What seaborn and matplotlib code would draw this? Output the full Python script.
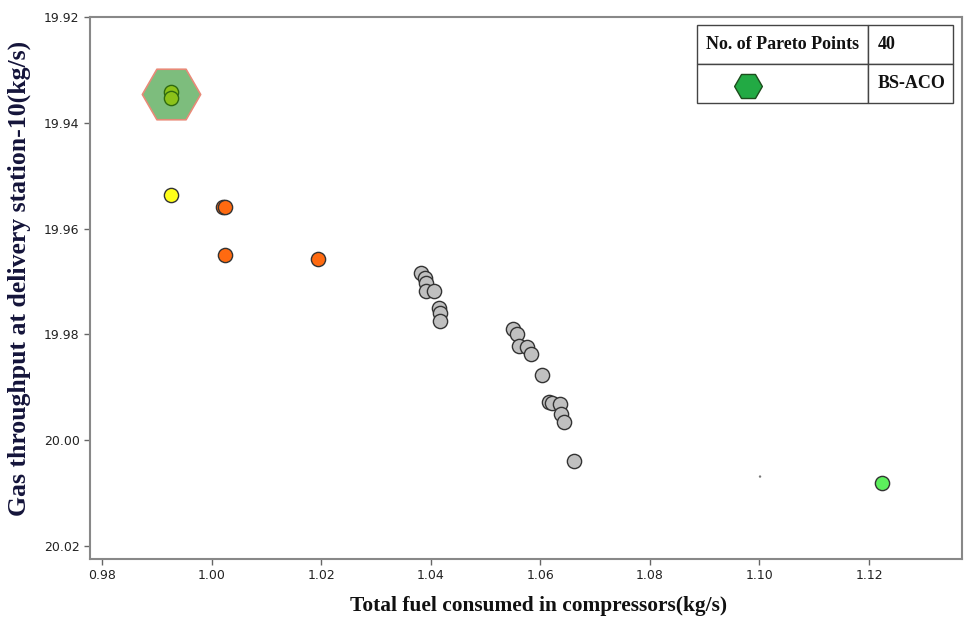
import matplotlib
matplotlib.use("Agg")
import matplotlib.pyplot as plt
import seaborn as sns
import pandas as pd

# Pareto front: fuel consumed (x) vs. throughput at delivery station 10 (y)
fuel = [0.9926, 0.9926,
        0.9926,
        1.0021, 1.0025, 1.0025, 1.0194,
        1.0382, 1.0390, 1.0391, 1.0391, 1.0406, 1.0415, 1.0417, 1.0417,
        1.0550, 1.0558, 1.0561, 1.0576, 1.0583, 1.0603, 1.0616, 1.0621,
        1.0636, 1.0638, 1.0643, 1.0662,
        1.1224]
throughput = [19.9342, 19.9353,
              19.9536,
              19.9559, 19.9559, 19.9650, 19.9658,
              19.9684, 19.9694, 19.9703, 19.9717, 19.9717, 19.9751, 19.9760, 19.9775,
              19.9790, 19.9800, 19.9822, 19.9824, 19.9837, 19.9876, 19.9927, 19.9929,
              19.9931, 19.9950, 19.9965, 20.0039,
              20.0081]
group = ["best"] * 2 + ["knee"] + ["near"] * 4 + ["front"] * 20 + ["extreme"]

# Highlighted BS-ACO solution
hex_fuel = [0.9926]
hex_throughput = [19.9346]

# Stray point
stray_fuel = [1.1001]
stray_throughput = [20.0069]

x_ticks = [0.98, 1.00, 1.02, 1.04, 1.06, 1.08, 1.10, 1.12]
y_ticks = [19.92, 19.94, 19.96, 19.98, 20.00, 20.02]

table_text = [["No. of Pareto Points", "40"], ["", "BS-ACO"]]

palette = {"best": "#8cc21a", "knee": "#ffff1a", "near": "#ff6a10",
           "front": "#c0c0c0", "extreme": "#5cee5c"}
edges = {"best": "#2f6a10", "knee": "#333333", "near": "#333333",
         "front": "#333333", "extreme": "#333333"}

sns.set_theme(style="white")
fig = plt.figure(figsize=(9.68, 6.17), dpi=100)
ax = fig.add_axes([0.093, 0.094, 0.901, 0.878])

sns.scatterplot(x=hex_fuel, y=hex_throughput, marker="H", s=1764,
                color="#7dbd7d", edgecolor="#e88a78", linewidth=1.2, ax=ax,
                legend=False, zorder=2)

df = pd.DataFrame({"fuel": fuel, "throughput": throughput, "group": group})
for g, sub in df.groupby("group", sort=False):
    sns.scatterplot(data=sub, x="fuel", y="throughput", s=105,
                    color=palette[g], edgecolor=edges[g], linewidth=1.0,
                    ax=ax, legend=False, zorder=3)

sns.scatterplot(x=stray_fuel, y=stray_throughput, s=3, color="#777777",
                edgecolor="none", ax=ax, legend=False, zorder=3)

ax.set_xlim(0.9778, 1.137)
ax.set_ylim(20.0225, 19.92)
ax.set_xticks(x_ticks)
ax.set_xticklabels([f"{v:.2f}" for v in x_ticks])
ax.set_yticks(y_ticks)
ax.set_yticklabels([f"{v:.2f}" for v in y_ticks])
ax.tick_params(axis="both", direction="out", length=4, width=1,
               color="#666666", labelsize=9, labelcolor="#222222",
               bottom=True, left=True)
for sp in ax.spines.values():
    sp.set_color("#888888")
    sp.set_linewidth(1.5)

ax.set_xlabel("Total fuel consumed in compressors(kg/s)",
              family="Liberation Serif", fontweight="bold", fontsize=15.4,
              color="#111111")
ax.xaxis.set_label_coords(0.514, -0.068)
ax.set_ylabel("Gas throughput at delivery station-10(kg/s)",
              family="Liberation Serif", fontweight="bold", fontsize=18.5,
              color="#14143a")
ax.yaxis.set_label_coords(-0.068, 0.517)

# Summary table in the upper right corner
tbl_x, tbl_y, tbl_w, tbl_h = 0.696, 0.841, 0.294, 0.144
col0 = 0.668
tbl = ax.table(cellText=table_text, cellLoc="left",
               colWidths=[col0, 1 - col0],
               bbox=[tbl_x, tbl_y, tbl_w, tbl_h])
tbl.auto_set_font_size(False)
for (r, c), cell in tbl.get_celld().items():
    cell.set_edgecolor("#444444")
    cell.set_linewidth(1.0)
    cell.PAD = 0.05 if c == 0 else 0.11
    txt = cell.get_text()
    txt.set_fontfamily("Liberation Serif")
    txt.set_fontweight("bold")
    txt.set_fontsize(13)
    txt.set_color("#111111")

ax.scatter([tbl_x + tbl_w * col0 * 0.3], [tbl_y + tbl_h * 0.22],
           transform=ax.transAxes, marker="H", s=400, color="#22aa44",
           edgecolor="#1d4d1d", linewidth=1.0, zorder=5, clip_on=False)

fig.savefig("out.png", dpi=100)
